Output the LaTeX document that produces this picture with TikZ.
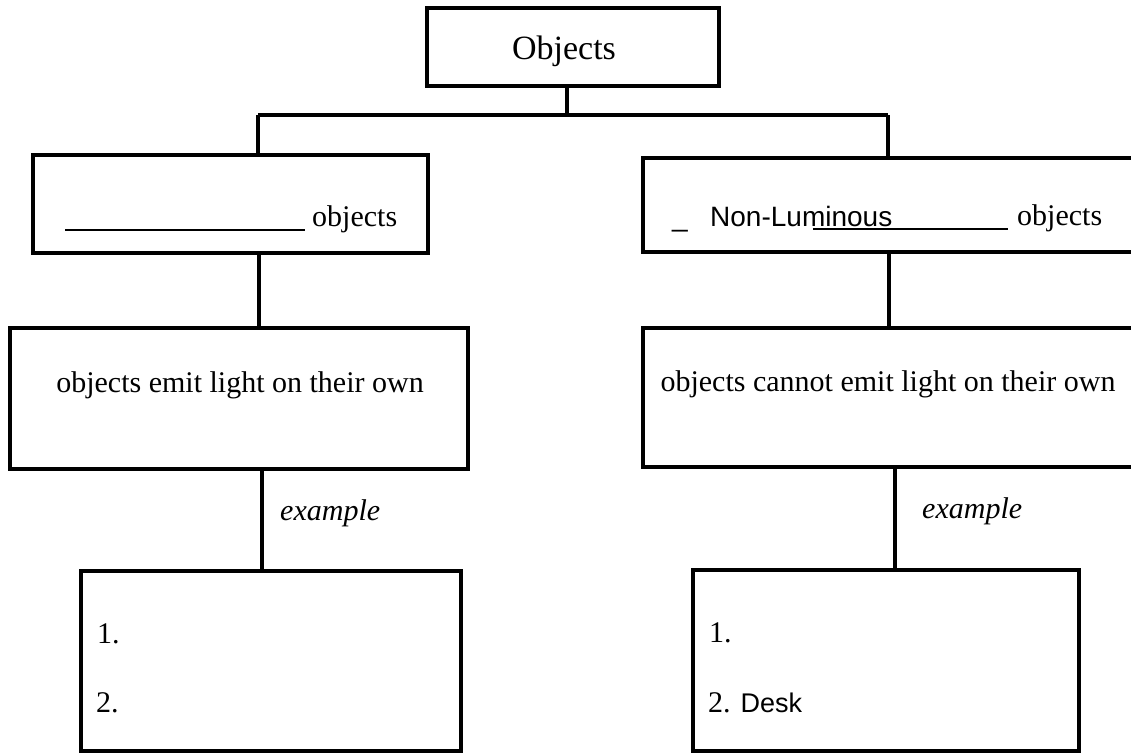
\documentclass[tikz,border=0pt]{standalone}
\usepackage{fontspec}
\setmainfont{Liberation Serif}
\newfontfamily\hand{Liberation Sans}
\begin{document}
\begin{tikzpicture}[x=1pt,y=-1pt,
  box/.style={draw, line width=3.2pt, inner sep=0pt},
  conn/.style={line width=3.2pt},
  blank/.style={line width=1.5pt},
  txt/.style={font=\fontsize{30}{36}\selectfont, inner sep=0pt},
  htxt/.style={font=\hand\fontsize{28}{32}\selectfont, inner sep=0pt}]
\useasboundingbox (0,0) rectangle (1131,753);
\clip (0,0) rectangle (1131,753);
% boxes
\node[box, minimum width=292pt, minimum height=78pt] (top) at (573,47) {};
\node[box, minimum width=395pt, minimum height=98pt] (l2) at (230.5,204) {};
\node[box, minimum width=502pt, minimum height=94pt] (r2) at (894,205) {};
\node[box, minimum width=458pt, minimum height=141pt] (l3) at (239,398.5) {};
\node[box, minimum width=502pt, minimum height=139pt] (r3) at (894,397.5) {};
\node[box, minimum width=380pt, minimum height=180pt] (l4) at (271,661) {};
\node[box, minimum width=386pt, minimum height=181pt] (r4) at (886,660.5) {};
% texts
\node[txt, font=\fontsize{34}{40}\selectfont, anchor=base] (tTop) at (564,59) {Objects};
\coordinate (ulLa) at (65,230); \coordinate (ulLb) at (305,230);
\draw[blank] (ulLa) -- (ulLb);
\node[txt, anchor=base west] (tL2) at (312,226) {objects};
\node[htxt, anchor=base west] (tR2u) at (672,226) {\_};
\node[htxt, anchor=base west] (tR2h) at (710,226) {Non-Luminous};
\coordinate (ulRa) at (813,229); \coordinate (ulRb) at (1008,229);
\draw[blank] (ulRa) -- (ulRb);
\node[txt, anchor=base west] (tR2) at (1017,225) {objects};
\node[txt, anchor=base] (tL3) at (240,392) {objects emit light on their own};
\node[txt, anchor=base] (tR3) at (888,391) {objects cannot emit light on their own};
\node[txt, anchor=base west, font=\itshape\fontsize{30}{36}\selectfont] (exL) at (280,520) {example};
\node[txt, anchor=base west, font=\itshape\fontsize{30}{36}\selectfont] (exR) at (922,518) {example};
\node[txt, anchor=base west] (l41) at (97,643) {1.};
\node[txt, anchor=base west] (l42) at (96,712) {2.};
\node[txt, anchor=base west] (r41) at (709,642) {1.};
\node[txt, anchor=base west] (r42) at (708,712) {2. {\hand\fontsize{27}{30}\selectfont Desk}};
% connectors
\coordinate (tstem) at (567,115);
\coordinate (barL) at (258,115);
\coordinate (barR) at (888,115);
\coordinate (xL1) at (259,0);
\coordinate (xR1) at (889,0);
\coordinate (xL2) at (262,0);
\coordinate (xR2) at (895,0);
\draw[conn] (top.south -| tstem) -- (tstem);
\draw[conn] (barL) -- (barR);
\draw[conn] (barL) -- (l2.north -| barL);
\draw[conn] (barR) -- (r2.north -| barR);
\draw[conn] (l2.south -| xL1) -- (l3.north -| xL1);
\draw[conn] (r2.south -| xR1) -- (r3.north -| xR1);
\draw[conn] (l3.south -| xL2) -- (l4.north -| xL2);
\draw[conn] (r3.south -| xR2) -- (r4.north -| xR2);
\end{tikzpicture}
\end{document}
